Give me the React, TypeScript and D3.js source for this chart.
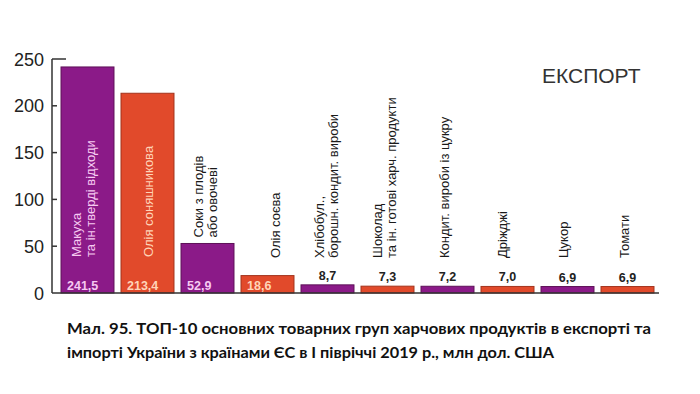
import React from 'react';
import * as d3 from 'd3';

// top-10 export groups, mln USD
const categories = [
  ['Макуха', 'та ін.тверді відходи'],
  ['Олія соняшникова'],
  ['Соки з плодів', 'або овочеві'],
  ['Олія соєва'],
  ['Хлібобул.,', 'борошн. кондит. вироби'],
  ['Шоколад', 'та ін. готові харч. продукти'],
  ['Кондит. вироби із цукру'],
  ['Дріжджі'],
  ['Цукор'],
  ['Томати'],
];
const exportValues = [241.5, 213.4, 52.9, 18.6, 8.7, 7.3, 7.2, 7.0, 6.9, 6.9];
const yTicks = [0, 50, 100, 150, 200, 250];
const chartTitle = 'ЕКСПОРТ';
const captionLines = [
  'Мал. 95. ТОП-10 основних товарних груп харчових продуктів в експорті та',
  'імпорті України з країнами ЄС в І півріччі 2019 р., млн дол. США',
];

const PURPLE = '#8b1a88';
const PURPLE_EDGE = '#5e1158';
const ORANGE = '#e14a2b';
const ORANGE_EDGE = '#a3331c';

// small horizontal nudges for the rotated names
const nameShift = [-4, 1, -2, 8, -1, -3, -3, -5, -4, -3];

const fmt = (v: number) => d3.format('.1f')(v).replace('.', ',');

export default function App() {
  const width = 700;
  const height = 394;
  const axisX = 52;

  const names = categories.map((c) => c.join(' '));

  const x = d3.scaleBand<string>()
    .domain(names)
    .range([57.5, 657.5])
    .paddingInner(0.117)
    .paddingOuter(0.0585);

  const y = d3.scaleLinear().domain([0, 250]).range([293, 59]);

  const font = "'Liberation Sans', Arial, sans-serif";

  return (
    <svg width={width} height={height} style={{ position: 'absolute', left: 0, top: 0, background: '#fff' }}>
      {/* bars */}
      {exportValues.map((v, i) => {
        const bx = x(names[i])!;
        const top = y(v);
        return (
          <rect key={'b' + i} x={bx} y={top} width={x.bandwidth()} height={y(0) - top}
            fill={i % 2 ? ORANGE : PURPLE} stroke={i % 2 ? ORANGE_EDGE : PURPLE_EDGE} strokeWidth={1} />
        );
      })}

      {/* value labels */}
      {exportValues.map((v, i) => {
        const bx = x(names[i])!;
        const inside = v > 15;
        return inside ? (
          <text key={'v' + i} x={bx + 6} y={289.5} fontFamily={font} fontWeight="bold" fontSize={12.5}
            fill={i % 2 ? '#ffd4b8' : '#f6c9f1'}>{fmt(v)}</text>
        ) : (
          <text key={'v' + i} x={bx + x.bandwidth() / 2} y={y(v) - 5} textAnchor="middle" fontFamily={font}
            fontWeight="bold" fontSize={12.5} fill="#222">{fmt(v)}</text>
        );
      })}

      {/* rotated category names: inside the tall bars, above the others */}
      {categories.map((lines, i) => {
        const v = exportValues[i];
        const cx = x(names[i])! + x.bandwidth() / 2 + nameShift[i];
        const inside = v > 100;
        const bottom = inside ? 257 : Math.min(y(v) - 6, 258);
        const color = inside ? (i % 2 ? '#ffd4b8' : '#f6c9f1') : '#1a1a1a';
        const step = 14;
        const first = -((lines.length - 1) * step) / 2;
        return (
          <g key={'n' + i} transform={`translate(${cx},${bottom}) rotate(-90)`}>
            {lines.map((ln, j) => (
              <text key={j} x={0} y={first + j * step + 4.5} fontFamily={font} fontSize={13} fill={color}>{ln}</text>
            ))}
          </g>
        );
      })}

      {/* y axis */}
      <g stroke="#333" strokeWidth={1.5} fill="none">
        <line x1={axisX} y1={y(250)} x2={axisX} y2={y(0)} />
        <line x1={axisX} y1={y(250)} x2={axisX + 14} y2={y(250)} />
        <line x1={axisX} y1={y(0)} x2={659} y2={y(0)} />
        {yTicks.filter((t) => t > 0 && t < 250).map((t) => (
          <line key={t} x1={axisX} y1={y(t)} x2={axisX + 5} y2={y(t)} />
        ))}
      </g>
      {yTicks.map((t) => (
        <text key={'t' + t} x={44} y={y(t) + 6.5} textAnchor="end" fontFamily={font} fontSize={18} fill="#222">{t}</text>
      ))}

      <text x={542} y={83} fontFamily={font} fontSize={21} fill="#333">{chartTitle}</text>

      <text x={67} y={334} fontFamily="Lato, 'Open Sans', sans-serif" fontWeight="bold" fontSize={15} fill="#111"
        textLength={584} lengthAdjust="spacingAndGlyphs">{captionLines[0]}</text>
      <text x={67} y={358} fontFamily="Lato, 'Open Sans', sans-serif" fontWeight="bold" fontSize={15} fill="#111"
        textLength={487} lengthAdjust="spacingAndGlyphs">{captionLines[1]}</text>
    </svg>
  );
}
